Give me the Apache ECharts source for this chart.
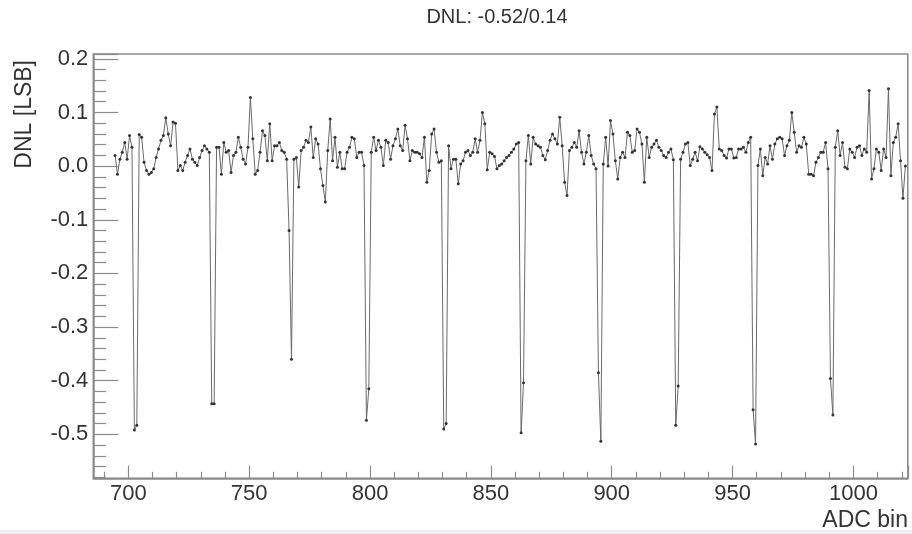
<!DOCTYPE html>
<html><head><meta charset="utf-8">
<script src="https://cdn.jsdelivr.net/npm/echarts@6/dist/echarts.min.js"></script>
<style>html,body{margin:0;padding:0;background:#fff}#c{width:912px;height:534px}</style>
</head><body><div id="c"></div>
<script>
// ADC bin centres start here; one value per bin
const firstBin = 694.5;
const dnl = [
 0.020,-0.015,0.013,0.026,0.044,0.013,0.057,0.035,-0.492,-0.483,
 0.059,0.054,0.007,-0.008,-0.015,-0.012,-0.005,0.016,0.032,0.048,
 0.057,0.090,0.060,0.038,0.082,0.080,-0.008,0.001,-0.008,0.007,
 0.020,0.032,0.013,0.007,0.001,0.016,0.029,0.038,0.032,0.026,
 -0.443,-0.443,0.035,0.035,-0.015,0.044,0.026,0.029,-0.012,0.020,
 0.026,0.054,0.035,0.013,0.004,0.035,0.128,0.051,-0.015,-0.008,
 0.026,0.066,0.057,0.010,0.079,0.010,0.038,0.038,0.044,0.029,
 0.026,0.013,-0.120,-0.360,0.013,0.016,-0.039,0.029,0.035,0.048,
 0.044,0.073,0.016,0.051,0.041,-0.005,-0.036,-0.067,0.029,0.088,
 0.010,0.054,-0.002,0.026,-0.005,-0.005,0.026,0.035,0.054,0.051,
 0.016,0.026,0.026,0.001,-0.474,-0.415,0.026,0.054,0.029,0.048,
 0.035,0.001,0.048,0.044,0.013,0.038,0.051,0.069,0.038,0.029,
 0.076,0.051,0.010,0.029,0.026,0.026,0.023,0.016,0.054,-0.030,
 -0.008,0.060,0.069,0.026,0.007,0.010,-0.490,-0.480,0.038,-0.005,
 0.013,0.013,-0.033,0.004,0.010,0.026,0.029,0.020,0.026,0.051,
 0.026,0.048,0.100,0.079,-0.007,0.026,0.023,0.018,-0.005,0.001,
 0.004,0.010,0.016,0.020,0.026,0.032,0.041,0.044,-0.497,-0.404,
 0.010,0.057,0.004,0.054,0.041,0.038,0.035,0.020,0.012,0.029,
 0.048,0.060,0.051,0.041,0.091,0.038,-0.030,-0.055,0.029,0.035,
 0.044,0.035,0.066,0.026,0.004,0.026,0.057,0.020,0.004,-0.005,
 -0.385,-0.513,0.004,0.054,0.000,0.085,0.060,0.010,-0.024,0.016,
 0.026,0.016,0.063,0.057,0.026,0.029,0.069,0.063,0.041,-0.030,
 0.054,0.016,0.035,0.041,0.048,0.035,0.029,0.020,0.016,0.026,
 0.032,0.012,-0.483,-0.410,0.013,0.026,0.041,0.044,0.001,0.013,
 0.026,0.010,0.036,0.032,0.026,0.021,0.016,-0.008,0.097,0.110,
 0.032,0.029,0.020,0.015,0.032,0.032,0.015,0.016,0.032,0.032,
 0.035,0.026,0.044,0.054,-0.454,-0.518,0.001,0.032,-0.018,0.016,
 0.004,0.038,0.013,0.041,0.051,0.054,0.051,0.020,0.038,0.048,
 0.100,0.063,0.026,0.038,0.035,0.054,0.041,-0.015,-0.015,-0.018,
 0.007,0.016,0.026,0.026,0.044,-0.005,-0.396,-0.464,0.035,0.066,
 0.020,0.044,-0.002,-0.005,0.032,0.026,0.016,0.035,0.038,0.020,
 0.032,0.026,0.141,-0.024,-0.005,0.032,0.026,-0.008,0.032,0.016,
 0.144,-0.018,0.044,0.054,0.079,0.010,-0.060,0.000
];
const bins = dnl.map((_, i) => firstBin + i);
const titleText = 'DNL: -0.52/0.14';
const xTitle = 'ADC bin';
const yTitle = 'DNL [LSB]';

const axisColor = '#8a8a8a';
const font = 'Liberation Sans, Arial, Helvetica, sans-serif';
const chart = echarts.init(document.getElementById('c'), null, {renderer: 'canvas'});
chart.setOption({
  animation: false,
  backgroundColor: '#fff',
  grid: {left: 93.3, right: 4.2, top: 54, bottom: 55.7, show: true,
         borderColor: axisColor, borderWidth: 1.5, containLabel: false},
  xAxis: {
    type: 'value', min: 685.5, max: 1022.5, splitNumber: 7,
    axisLine: {show: true, onZero: false, lineStyle: {color: axisColor, width: 1.5}},
    axisTick: {show: true, inside: true, length: 12.7, lineStyle: {color: axisColor, width: 1.2}},
    minorTick: {show: true, splitNumber: 5, length: 6.5, lineStyle: {color: axisColor, width: 1.2}},
    splitLine: {show: false},
    axisLabel: {showMinLabel: false, showMaxLabel: false, margin: 5, color: '#333',
                fontFamily: font, fontSize: 22, formatter: v => String(Math.round(v))}
  },
  yAxis: {
    type: 'value', min: -0.582, max: 0.209, splitNumber: 8,
    axisLine: {show: true, onZero: false, lineStyle: {color: axisColor, width: 1.5}},
    axisTick: {show: true, inside: true, length: 25, lineStyle: {color: axisColor, width: 1.2}},
    minorTick: {show: true, splitNumber: 5, length: 12.7, lineStyle: {color: axisColor, width: 1.2}},
    splitLine: {show: false},
    axisLabel: {showMinLabel: false, showMaxLabel: false, margin: 5, color: '#333',
                fontFamily: font, fontSize: 22,
                formatter: v => (Math.abs(v) < 1e-9 ? 0 : v).toFixed(1)}
  },
  graphic: [
    {type: 'text', x: 497, y: 17, style: {text: titleText, fontFamily: font, fontSize: 20,
      fill: '#333', align: 'center', verticalAlign: 'middle'}},
    {type: 'text', x: 908, y: 521, style: {text: xTitle, fontFamily: font, fontSize: 23,
      fill: '#333', align: 'right', verticalAlign: 'middle'}},
    {type: 'text', x: 25, y: 60, rotation: Math.PI / 2, style: {text: yTitle, fontFamily: font,
      fontSize: 23, fill: '#333', align: 'right', verticalAlign: 'middle'}},
    {type: 'rect', shape: {x: 0, y: 530, width: 912, height: 4}, style: {fill: '#ededf8'}}
  ],
  series: [{
    type: 'line', data: bins.map((b, i) => [b, dnl[i]]),
    symbol: 'circle', symbolSize: 3, showSymbol: true,
    itemStyle: {color: '#333'}, lineStyle: {color: '#6a6a6a', width: 1},
    silent: true
  }]
});
</script></body></html>
